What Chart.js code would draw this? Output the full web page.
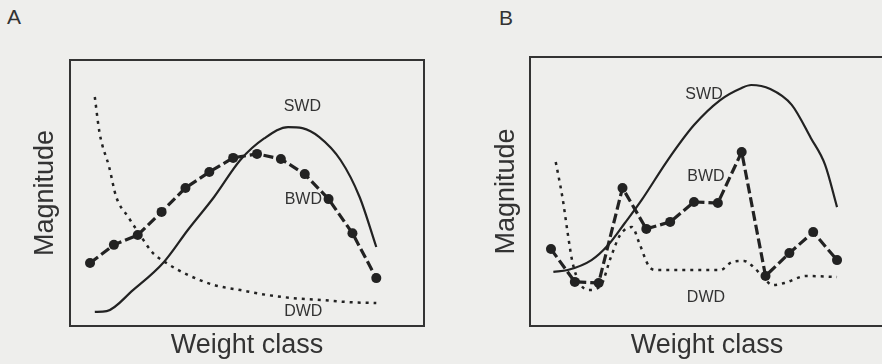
<!DOCTYPE html>
<html>
<head>
<meta charset="utf-8">
<script src="https://cdn.jsdelivr.net/npm/chart.js@4.4.0/dist/chart.umd.min.js"></script>
<style>
    body { margin: 0; background: #eeeeec; width: 882px; height: 364px; overflow: hidden; position: relative; font-family: "Liberation Sans", Arial, sans-serif; }
    .panel-label { position: absolute; font-size: 21px; color: #333; }
    canvas { position: absolute; top: 0; }
</style>
</head>
<body>
<div class="panel-label" style="left:7px; top:5px;">A</div>
<div class="panel-label" style="left:499px; top:6px;">B</div>
<canvas id="chart-a" width="441" height="364" style="left:0px;"></canvas>
<canvas id="chart-b" width="460" height="364" style="left:441px;"></canvas>
<script>
// weight classes where BWD is sampled
const weightClass = [1, 2, 3, 4, 5, 6, 7, 8, 9, 10, 11, 12, 13]
const curveNames = ['SWD', 'BWD', 'DWD']

// panel A
const aBwd = [23.7, 30.5, 34.2, 42.9, 51.9, 57.9, 63.2, 64.7, 62.8, 57.1, 47.7, 34.9, 18.0]
const aSwdX = [1.2, 1.7, 2.8, 4.1, 5.1, 6.2, 7.3, 8.3, 9.3, 9.9, 10.6, 11.5, 12.3, 13.0]
const aSwdY = [5.3, 5.6, 13.5, 24.1, 36.1, 48.5, 62.4, 70.5, 74.8, 74.4, 71.1, 62.4, 48.5, 29.7]
const aDwdX = [1.2, 1.4, 1.8, 2.1, 2.6, 3.1, 3.6, 4.2, 5.1, 6.2, 7.3, 8.4, 9.5, 10.7, 11.8, 13.0]
const aDwdY = [86.1, 72.6, 59.8, 48.5, 41.0, 34.2, 27.8, 23.7, 19.2, 15.4, 13.5, 11.7, 10.5, 9.8, 9.0, 8.6]
const aLabelX = [9.9, 9.94, 9.94]
const aLabelY = [82.3, 47.4, 5.3]

// panel B
const bBwd = [28.6, 16.4, 16.0, 51.3, 36.1, 38.7, 46.1, 45.7, 64.7, 18.6, 27.1, 34.9, 24.5]
const bSwdX = [1.1, 1.7, 2.7, 3.4, 4.1, 4.8, 5.9, 7.0, 8.1, 9.0, 9.4, 10.2, 11.1, 11.9, 12.5, 13.0]
const bSwdY = [20.1, 20.8, 24.5, 30.1, 38.3, 46.8, 61.7, 74.7, 84.0, 88.5, 89.6, 88.1, 82.2, 69.9, 59.9, 44.2]
const bDwdX = [1.2, 1.5, 1.7, 1.9, 2.2, 2.6, 3.1, 3.5, 3.9, 4.4, 4.7, 5.1, 5.4, 6.4, 8.1, 8.6, 9.1, 9.5, 9.9, 10.3, 10.8, 11.7, 13.0]
const bDwdY = [61.0, 46.8, 34.6, 23.8, 16.0, 13.4, 15.2, 25.3, 33.8, 36.8, 30.9, 22.3, 20.8, 20.8, 20.8, 23.8, 24.2, 21.9, 18.2, 15.2, 16.0, 18.6, 18.2]
const bLabelX = [7.42, 7.5, 7.5]
const bLabelY = [85.9, 55.4, 10.4]

const ink = '#222'

const toPoints = (xs, ys) => xs.map((x, i) => ({x: x, y: ys[i]}))

// frame around the plot area + curve names
const framePlugin = {
    id: 'frame',
    afterDatasetsDraw: (chart) => {
        const {ctx, chartArea} = chart
        ctx.save()
        ctx.strokeStyle = '#333'
        ctx.lineWidth = 2
        ctx.strokeRect(chartArea.left, chartArea.top, chartArea.right - chartArea.left, chartArea.bottom - chartArea.top)

        const labels = chart.options.plugins.frame
        ctx.fillStyle = '#333'
        ctx.font = '16px "Liberation Sans", Arial, sans-serif'
        ctx.textAlign = 'center'
        ctx.textBaseline = 'middle'
        curveNames.forEach((name, i) => {
            ctx.fillText(name, chart.scales.x.getPixelForValue(labels.x[i]), chart.scales.y.getPixelForValue(labels.y[i]))
        })
        ctx.restore()
    }
}

const MakePanel = (id, bwd, swd, dwd, labelX, labelY, xMin, xMax, pad, yTitlePad) => {
    const ctx = document.getElementById(id).getContext('2d')

    const config = {
        type: 'line',
        data: {
            datasets: [
                {
                    label: 'SWD',
                    data: swd,
                    borderColor: ink,
                    borderWidth: 2.2,
                    pointRadius: 0,
                    cubicInterpolationMode: 'monotone',
                    fill: false
                },
                {
                    label: 'BWD',
                    data: toPoints(weightClass, bwd),
                    borderColor: ink,
                    borderWidth: 3.2,
                    borderDash: [10, 4],
                    pointRadius: 5,
                    pointBorderWidth: 0,
                    pointBackgroundColor: ink,
                    tension: 0,
                    fill: false
                },
                {
                    label: 'DWD',
                    data: dwd,
                    borderColor: ink,
                    borderWidth: 2.5,
                    borderDash: [3, 5],
                    pointRadius: 0,
                    cubicInterpolationMode: 'monotone',
                    fill: false
                }
            ]
        },
        options: {
            responsive: false,
            animation: false,
            layout: {padding: pad},
            scales: {
                x: {
                    type: 'linear',
                    min: xMin,
                    max: xMax,
                    grid: {display: false, drawTicks: false},
                    border: {display: false},
                    ticks: {display: false},
                    title: {
                        display: true,
                        text: 'Weight class',
                        color: '#333',
                        font: {family: '"Liberation Sans", Arial, sans-serif', size: 27},
                        padding: {top: 3.6, bottom: 2}
                    }
                },
                y: {
                    min: 0,
                    max: 100,
                    grid: {display: false, drawTicks: false},
                    border: {display: false},
                    ticks: {display: false},
                    title: {
                        display: true,
                        text: 'Magnitude',
                        color: '#333',
                        font: {family: '"Liberation Sans", Arial, sans-serif', size: 27},
                        padding: yTitlePad
                    }
                }
            },
            plugins: {
                legend: {display: false},
                tooltip: {enabled: false},
                frame: {x: labelX, y: labelY}
            }
        },
        plugins: [framePlugin]
    }

    return new Chart(ctx, config)
}

MakePanel('chart-a', aBwd, toPoints(aSwdX, aSwdY), toPoints(aDwdX, aDwdY), aLabelX, aLabelY,
    0.16, 15.0, {left: 20, right: 17, top: 60, bottom: 0}, {top: 9, bottom: 8.6})

MakePanel('chart-b', bBwd, toPoints(bSwdX, bSwdY), toPoints(bDwdX, bDwdY), bLabelX, bLabelY,
    0.12, 14.97, {left: 41, right: 17, top: 57, bottom: 0}, {top: 8, bottom: 7.6})
</script>
</body>
</html>
